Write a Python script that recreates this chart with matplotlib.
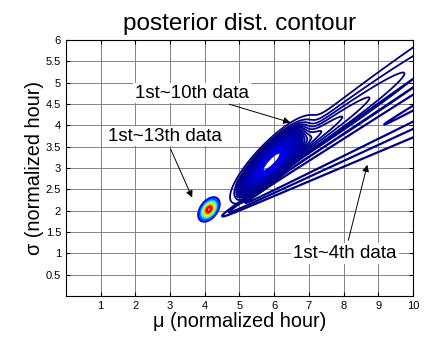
import numpy as np
import matplotlib.pyplot as plt
from matplotlib.colors import Normalize

plt.rcParams['font.family'] = ['Liberation Sans', 'DejaVu Sans']

# posterior shapes
# 1st~13th data: compact ellipse
c13 = [4.12, 2.03]
s13 = [0.14, 0.13]
rho13 = 0.45
peak13 = 1.0
n13 = 10

# 1st~10th data: elongated core + long low tail to the upper right
c10 = [5.95, 3.2]
slope10 = 0.72
s10 = [0.45, 0.2]
tail10_start = [4.9, 2.45]
tail10_slope = 0.57
tail10_width = [0.1, 0.045]
tail10_amp = 0.3
tail10_decay = 3.5
peak10 = 0.1
n10 = 40

# 1st~4th data: wedge opening to the upper right
tip4 = [4.4, 1.83]
slope4 = 0.46
width4 = [0.03, 0.068]
rise4 = [0.855, 0.327]
peak4 = 0.02
frac4 = [0.2, 0.4, 0.6, 0.8]

xg = np.linspace(0, 10.5, 700)
yg = np.linspace(0, 6.3, 500)
X, Y = np.meshgrid(xg, yg)

# 13th
dx = (X - c13[0]) / s13[0]
dy = (Y - c13[1]) / s13[1]
Z13 = peak13 * np.exp(-(dx**2 - 2*rho13*dx*dy + dy**2) / (2*(1 - rho13**2)))

# 10th
u = X - c10[0]
v = Y - (c10[1] + slope10*u)
core = np.exp(-0.5*((u/s10[0])**2 + (v/s10[1])**2))
ut = np.clip(X - tail10_start[0], 0, None)
vt = Y - (tail10_start[1] + tail10_slope*(X - tail10_start[0]))
wt = tail10_width[0] + tail10_width[1]*ut
tail = tail10_amp*(1 - np.exp(-ut/0.3))*np.exp(-ut/tail10_decay)*np.exp(-0.5*(vt/wt)**2)
Z10 = peak10*(core + tail)

# 4th
u4 = np.clip(X - tip4[0], 0, None)
v4 = Y - (tip4[1] + slope4*(X - tip4[0]))
w4 = width4[0] + width4[1]*u4
r4 = rise4[0]*u4/(u4 + rise4[1])
Z4 = peak4*r4*np.exp(-0.5*(v4/w4)**2)

norm = Normalize(0, peak13)
fig, ax = plt.subplots(figsize=(4.25, 3.43), dpi=100)
fig.subplots_adjust(left=0.155, right=0.972, bottom=0.137, top=0.883)

ax.contour(X, Y, Z4, levels=peak4*np.array(frac4), cmap='jet', norm=norm, linewidths=1.6)
ax.contour(X, Y, Z10, levels=np.linspace(0, peak10, n10+1)[1:], cmap='jet', norm=norm, linewidths=1.3)
ax.contour(X, Y, Z13, levels=np.linspace(0, peak13, n13+2)[1:-1], cmap='jet', norm=norm, linewidths=1.6)

ax.set_xlim(0, 10)
ax.set_ylim(0, 6)
ax.set_xticks(np.arange(1, 11))
ax.set_yticks(np.arange(0.5, 6.01, 0.5))
ax.set_yticklabels(['0.5', '1', '1.5', '2', '2.5', '3', '3.5', '4', '4.5', '5', '5.5', '6'])
ax.grid(True, color='#707070', lw=0.6)
ax.tick_params(direction='in', top=True, right=True, labelsize=8, length=3)
for s in ax.spines.values():
    s.set_linewidth(0.8)

ax.set_title('posterior dist. contour', fontsize=17.5, pad=7)
ax.set_xlabel('\u03bc (normalized hour)', fontsize=14.3, labelpad=1)
ax.set_ylabel('\u03c3 (normalized hour)', fontsize=14.3, labelpad=1)

box = dict(boxstyle='square,pad=0.1', fc='white', ec='none')
arr = dict(arrowstyle='-|>', color='k', lw=0.7, mutation_scale=10)
ax.annotate('1st~10th data', xy=(6.54, 4.05), xytext=(3.63, 4.76), fontsize=13.5,
            ha='center', va='center', bbox=box, arrowprops=arr)
ax.annotate('1st~13th data', xy=(3.67, 2.25), xytext=(2.85, 3.75), fontsize=13.5,
            ha='center', va='center', bbox=box, arrowprops=arr)
ax.annotate('1st~4th data', xy=(8.7, 3.14), xytext=(8.04, 1.0), fontsize=13.5,
            ha='center', va='center', bbox=box, arrowprops=arr)

fig.savefig('out.png', dpi=100)
